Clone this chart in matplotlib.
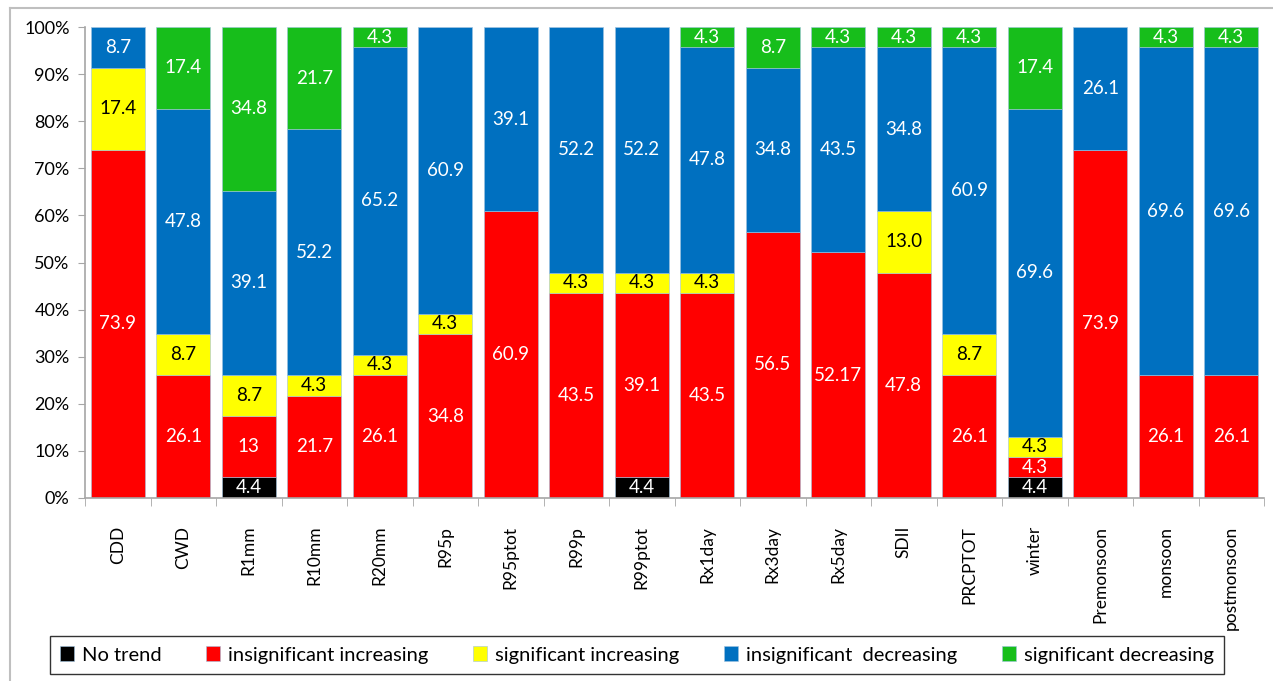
import numpy as np
import matplotlib.pyplot as plt
from matplotlib.lines import Line2D

# 数据（百分比，按图上标注录入）
categories = ['CDD', 'CWD', 'R1mm', 'R10mm', 'R20mm', 'R95p', 'R95ptot', 'R99p',
              'R99ptot', 'Rx1day', 'Rx3day', 'Rx5day', 'SDII', 'PRCPTOT', 'winter',
              'Premonsoon', 'monsoon', 'postmonsoon']

no_trend = ['', '', '4.4', '', '', '', '', '', '4.4', '', '', '', '', '', '4.4', '', '', '']
insig_inc = ['73.9', '26.1', '13', '21.7', '26.1', '34.8', '60.9', '43.5', '39.1',
             '43.5', '56.5', '52.17', '47.8', '26.1', '4.3', '73.9', '26.1', '26.1']
sig_inc = ['17.4', '8.7', '8.7', '4.3', '4.3', '4.3', '', '4.3', '4.3',
           '4.3', '', '', '13.0', '8.7', '4.3', '', '', '']
insig_dec = ['8.7', '47.8', '39.1', '52.2', '65.2', '60.9', '39.1', '52.2', '52.2',
             '47.8', '34.8', '43.5', '34.8', '60.9', '69.6', '26.1', '69.6', '69.6']
sig_dec = ['', '17.4', '34.8', '21.7', '4.3', '', '', '', '',
           '4.3', '8.7', '4.3', '4.3', '4.3', '17.4', '', '4.3', '4.3']

series = [
    ('No trend', no_trend, '#000000', 'white'),
    ('insignificant increasing', insig_inc, '#FF0000', 'white'),
    ('significant increasing', sig_inc, '#FFFF00', 'black'),
    ('insignificant  decreasing', insig_dec, '#0070C0', 'white'),
    ('significant decreasing', sig_dec, '#17BE1B', 'white'),
]

plt.rcParams['font.family'] = ['Lato', 'DejaVu Sans']

vals = np.array([[float(v) if v else 0.0 for v in s[1]] for s in series])
totals = vals.sum(axis=0)
pct = vals / totals * 100

fig = plt.figure(figsize=(12.73, 6.81), dpi=100)
ax = fig.add_axes([85 / 1273, 1 - 498 / 681, 1179 / 1273, 471 / 681])

x = np.arange(len(categories))
bottom = np.zeros(len(categories))
for (name, labels, color, tcolor), p in zip(series, pct):
    ax.bar(x, p, 0.83, bottom=bottom, color=color, label=name,
           edgecolor='#9fc3e0', linewidth=0.4)
    for xi, b, h, lab in zip(x, bottom, p, labels):
        if lab:
            ax.text(xi, b + h / 2, lab, ha='center', va='center',
                    color=tcolor, fontsize=13.5)
    bottom += p

ax.set_xlim(-0.5, len(categories) - 0.5)
ax.set_ylim(0, 100)
ax.set_yticks(np.arange(0, 101, 10))
ax.set_yticklabels([f'{t}%' for t in range(0, 101, 10)], fontsize=13)
ax.set_xticks(x)
ax.set_xticklabels(categories, rotation=90, fontsize=12.5, va='top')
ax.set_xticks(np.arange(-0.5, len(categories)), minor=True)
ax.tick_params(axis='x', which='major', length=0, pad=20)
ax.tick_params(axis='x', which='minor', length=6, color='#a6a6a6', direction='out')
ax.tick_params(axis='y', length=5, color='#a6a6a6', pad=6)

for s in ['top', 'right']:
    ax.spines[s].set_visible(False)
for s in ['left', 'bottom']:
    ax.spines[s].set_color('#a6a6a6')
    ax.spines[s].set_linewidth(1.2)

# 图例
handles, lbls = ax.get_legend_handles_labels()
leg = fig.legend(handles, lbls, ncol=5, loc='center',
                 bbox_to_anchor=(637 / 1273, 1 - 655 / 681), fontsize=14.5,
                 frameon=True, fancybox=False, edgecolor='black',
                 handlelength=0.7, handleheight=0.7, handletextpad=0.4,
                 columnspacing=2.2, borderpad=0.5)
leg.get_frame().set_linewidth(1.0)

# 外框（上、左）
fig.add_artist(Line2D([10 / 1273, 1], [1 - 8 / 681, 1 - 8 / 681], color='#bfbfbf', linewidth=1.5))
fig.add_artist(Line2D([10 / 1273, 10 / 1273], [0, 1 - 8 / 681], color='#bfbfbf', linewidth=1.5))

plt.savefig('out.png', dpi=100)
